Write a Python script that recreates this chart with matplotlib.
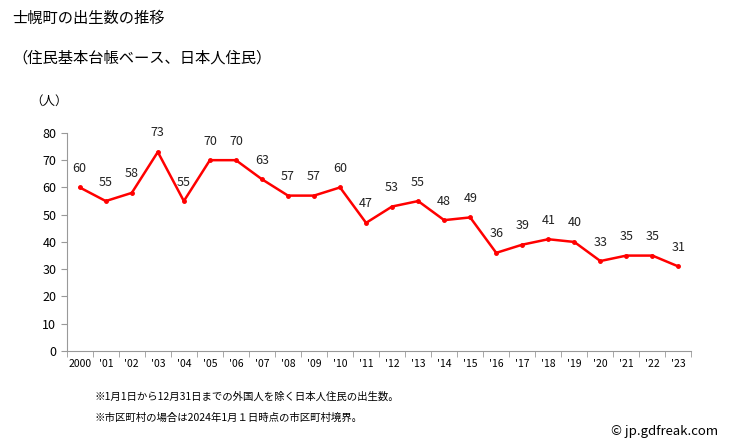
import numpy as np
import matplotlib.pyplot as plt

plt.rcParams['font.family'] = ['Noto Sans CJK JP', 'DejaVu Sans']

years = ['2000', "'01", "'02", "'03", "'04", "'05", "'06", "'07", "'08", "'09", "'10", "'11",
         "'12", "'13", "'14", "'15", "'16", "'17", "'18", "'19", "'20", "'21", "'22", "'23"]
births = [60, 55, 58, 73, 55, 70, 70, 63, 57, 57, 60, 47,
          53, 55, 48, 49, 36, 39, 41, 40, 33, 35, 35, 31]

fig = plt.figure(figsize=(7.29, 4.46), dpi=100)
ax = fig.add_axes([0.0915, 0.213, 0.857, 0.489])

x = np.arange(len(years))
ax.plot(x, births, color='#ff0000', lw=1.8, marker='o', ms=2.5, zorder=3)
for xi, v in zip(x, births):
    ax.annotate(str(v), (xi, v), xytext=(0, 9), textcoords='offset points',
                ha='center', va='bottom', fontsize=9, color='#222222')

ax.set_xlim(-0.5, len(years) - 0.5)
ax.set_ylim(0, 80)
ax.set_yticks(np.arange(0, 81, 10))
ax.set_xticks(x)
ax.set_xticklabels(years, fontsize=7.5)
ax.set_xticks(np.arange(-0.5, len(years), 1), minor=True)
ax.tick_params(axis='x', which='major', length=0, pad=6)
ax.tick_params(axis='x', which='minor', length=4, color='#999999', direction='out')
ax.tick_params(axis='y', labelsize=9, length=4, color='#999999', direction='out')
for s in ['top', 'right']:
    ax.spines[s].set_visible(False)
for s in ['left', 'bottom']:
    ax.spines[s].set_color('#999999')

fig.text(12 / 729, 1 - 18 / 446, '士幌町の出生数の推移', fontsize=11, va='center')
fig.text(12 / 729, 1 - 58 / 446, '（住民基本台帳ベース、日本人住民）', fontsize=11, va='center')
fig.text(30 / 729, 1 - 101 / 446, '（人）', fontsize=9, va='center')
fig.text(95 / 729, 1 - 397 / 446, '※1月1日から12月31日までの外国人を除く日本人住民の出生数。', fontsize=7.5, va='center')
fig.text(95 / 729, 1 - 418 / 446, '※市区町村の場合は2024年1月１日時点の市区町村境界。', fontsize=7.5, va='center')
fig.text(718 / 729, 1 - 432 / 446, '© jp.gdfreak.com', fontsize=9.5, va='center', ha='right')

fig.savefig('out.png', dpi=100)
